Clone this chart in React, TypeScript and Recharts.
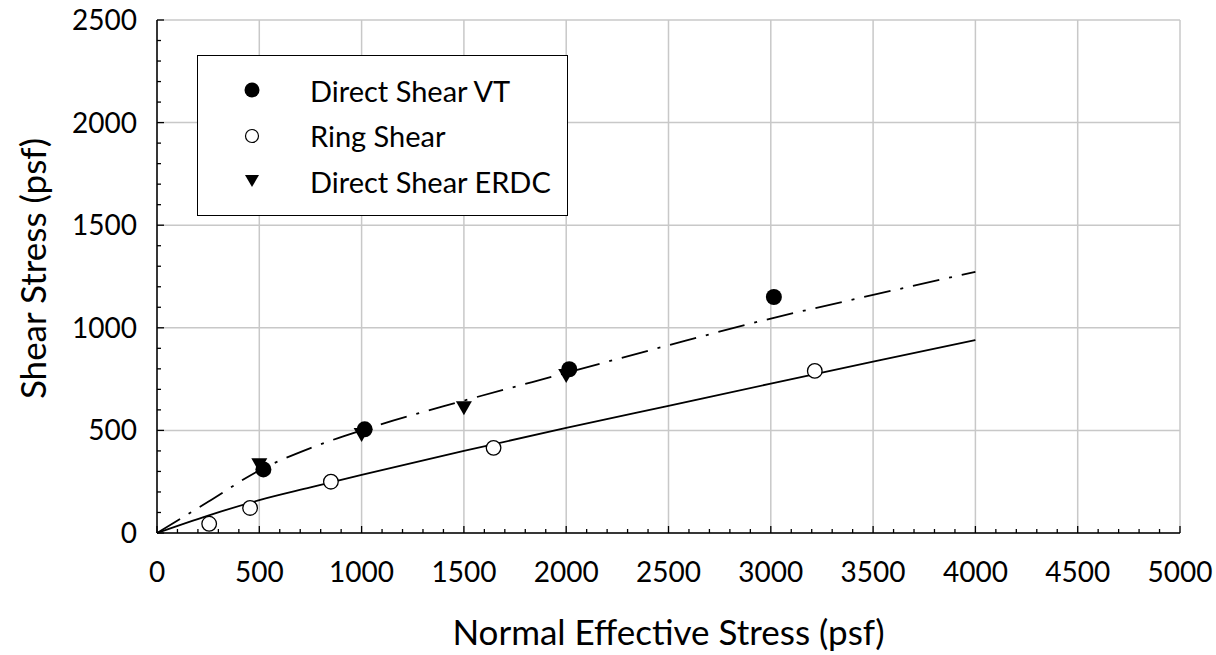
import React from "react";
import {
  CartesianGrid,
  Legend,
  Scatter,
  ScatterChart,
  XAxis,
  YAxis,
} from "recharts";

// measured points
const vtStress = [520, 1015, 2015, 3015];
const vtShear = [310, 505, 798, 1150];
const ringStress = [255, 455, 850, 1645, 3215];
const ringShear = [45, 122, 250, 415, 790];
const erdcStress = [500, 1000, 1500, 2000];
const erdcShear = [330, 478, 608, 765];

// strength envelopes
const fitStress = [0, 250, 500, 750, 1000, 1500, 2000, 2500, 3000, 3500, 4000];
const ringFit = [0, 85, 160, 222, 283, 400, 512, 620, 728, 835, 940];
const vtFit = [0, 152, 305, 414, 500, 645, 780, 915, 1045, 1160, 1273];

const xLabels = [0, 500, 1000, 1500, 2000, 2500, 3000, 3500, 4000, 4500, 5000];
const yLabels = [0, 500, 1000, 1500, 2000, 2500];
const xTicks = Array.from({ length: 51 }, (_, i) => i * 100);
const yTicks = Array.from({ length: 26 }, (_, i) => i * 100);

const seriesNames = ["Direct Shear VT", "Ring Shear", "Direct Shear ERDC"];

const FONT = "Lato, 'Open Sans', sans-serif";
const toPoints = (xs: number[], ys: number[]) => xs.map((x, i) => ({ x, y: ys[i] }));

const vtData = toPoints(vtStress, vtShear);
const ringData = toPoints(ringStress, ringShear);
const erdcData = toPoints(erdcStress, erdcShear);
const ringFitData = toPoints(fitStress, ringFit);
const vtFitData = toPoints(fitStress, vtFit);

const Filled = ({ cx, cy }: any) => <circle cx={cx} cy={cy} r={8} fill="#000" />;
const Hollow = ({ cx, cy }: any) => (
  <circle cx={cx} cy={cy} r={7.3} fill="#fff" stroke="#000" strokeWidth={1.3} />
);
const DownTri = ({ cx, cy }: any) => (
  <path d={`M${cx - 8},${cy - 7}L${cx + 8},${cy - 7}L${cx},${cy + 7}Z`} fill="#000" />
);
const NoDot = () => <g />;

const BottomTick = ({ x, y, payload }: any) => {
  const major = payload.value % 500 === 0;
  return (
    <g>
      <line x1={x} x2={x} y1={y} y2={y - (major ? 7 : 4)} stroke="#000" strokeWidth={1.3} />
      {major && (
        <text x={x} y={y + 49} textAnchor="middle" fontSize={28} fontFamily={FONT} fill="#000">
          {payload.value}
        </text>
      )}
    </g>
  );
};

const TopTick = ({ x, y, payload }: any) => {
  const major = payload.value % 500 === 0;
  return <line x1={x} x2={x} y1={y} y2={y + (major ? 7 : 4)} stroke="#000" strokeWidth={1.3} />;
};

const LeftTick = ({ x, y, payload }: any) => {
  const major = payload.value % 500 === 0;
  return (
    <g>
      <line x1={x} x2={x + (major ? 7 : 4)} y1={y} y2={y} stroke="#000" strokeWidth={1.3} />
      {major && (
        <text x={x - 20} y={y + 10} textAnchor="end" fontSize={28} fontFamily={FONT} fill="#000">
          {payload.value}
        </text>
      )}
    </g>
  );
};

const legendMarker: Record<string, React.ReactNode> = {
  "Direct Shear VT": <circle cx={0} cy={0} r={7.5} fill="#000" />,
  "Ring Shear": <circle cx={0} cy={0} r={6.5} fill="#fff" stroke="#000" strokeWidth={1.2} />,
  "Direct Shear ERDC": <path d="M-7,-6L7,-6L0,6Z" fill="#000" />,
};

const LegendBox = ({ payload }: any) => {
  const names = seriesNames.filter((n) => (payload || []).some((p: any) => p.value === n));
  return (
    <div
      style={{
        width: 369,
        height: 159,
        border: "1.5px solid #000",
        background: "#fff",
        boxSizing: "content-box",
        position: "relative",
      }}
    >
      {names.map((name, i) => (
        <div
          key={name}
          style={{
            position: "absolute",
            left: 0,
            top: 34 + i * 45.5 - 20,
            height: 40,
            display: "flex",
            alignItems: "center",
          }}
        >
          <svg width={108} height={40}>
            <g transform="translate(54,20)">{legendMarker[name]}</g>
          </svg>
          <span style={{ fontFamily: FONT, fontSize: 29, color: "#000", marginLeft: 4 }}>{name}</span>
        </div>
      ))}
    </div>
  );
};

export default function App() {
  return (
    <div style={{ position: "absolute", left: 0, top: 0, width: 1216, height: 655, background: "#fff" }}>
      <ScatterChart width={1216} height={655} margin={{ top: 20, right: 36, bottom: 0, left: 0 }}>
        <CartesianGrid
          stroke="#c8c8c8"
          strokeWidth={1.5}
          horizontalValues={yLabels}
          verticalValues={xLabels}
        />
        <XAxis
          type="number"
          dataKey="x"
          domain={[0, 5000]}
          ticks={xTicks}
          interval={0}
          height={122}
          tickSize={0}
          tickMargin={0}
          tick={<BottomTick />}
          axisLine={{ stroke: "#000", strokeWidth: 1.5 }}
          label={({ viewBox }: any) => (
            <text
              x={viewBox.x + viewBox.width / 2}
              y={viewBox.y + 112}
              textAnchor="middle"
              fontSize={35}
              fontFamily={FONT}
              fill="#000"
            >
              Normal Effective Stress (psf)
            </text>
          )}
        />
        <XAxis
          xAxisId="top"
          orientation="top"
          type="number"
          dataKey="x"
          domain={[0, 5000]}
          ticks={xTicks}
          interval={0}
          height={0}
          tickSize={0}
          tickMargin={0}
          tick={<TopTick />}
          axisLine={{ stroke: "#000", strokeWidth: 1.5 }}
        />
        <YAxis
          type="number"
          dataKey="y"
          domain={[0, 2500]}
          ticks={yTicks}
          interval={0}
          width={157}
          tickSize={0}
          tickMargin={0}
          tick={<LeftTick />}
          axisLine={{ stroke: "#000", strokeWidth: 1.5 }}
          label={({ viewBox }: any) => {
            const cx = viewBox.x + viewBox.width - 111;
            const cy = viewBox.y + viewBox.height / 2 - 8;
            return (
              <text
                x={cx}
                y={cy}
                textAnchor="middle"
                fontSize={35}
                fontFamily={FONT}
                fill="#000"
                transform={`rotate(-90, ${cx}, ${cy})`}
              >
                Shear Stress (psf)
              </text>
            );
          }}
        />
        <Legend
          layout="horizontal"
          verticalAlign="middle"
          align="center"
          content={<LegendBox />}
          wrapperStyle={{ left: 197, top: 55, width: 372 }}
        />
        <Scatter
          name="Ring fit"
          data={ringFitData}
          legendType="none"
          shape={<NoDot />}
          line={{ stroke: "#000", strokeWidth: 1.8 }}
          lineJointType="monotoneX"
          isAnimationActive={false}
        />
        <Scatter
          name="VT fit"
          data={vtFitData}
          legendType="none"
          shape={<NoDot />}
          line={{ stroke: "#000", strokeWidth: 1.8, strokeDasharray: "27 10 3 10" }}
          lineJointType="monotoneX"
          isAnimationActive={false}
        />
        <Scatter
          name="Ring Shear"
          data={ringData}
          fill="#000"
          shape={<Hollow />}
          isAnimationActive={false}
        />
        <Scatter
          name="Direct Shear ERDC"
          data={erdcData}
          fill="#000"
          shape={<DownTri />}
          isAnimationActive={false}
        />
        <Scatter
          name="Direct Shear VT"
          data={vtData}
          fill="#000"
          shape={<Filled />}
          isAnimationActive={false}
        />
      </ScatterChart>
    </div>
  );
}
